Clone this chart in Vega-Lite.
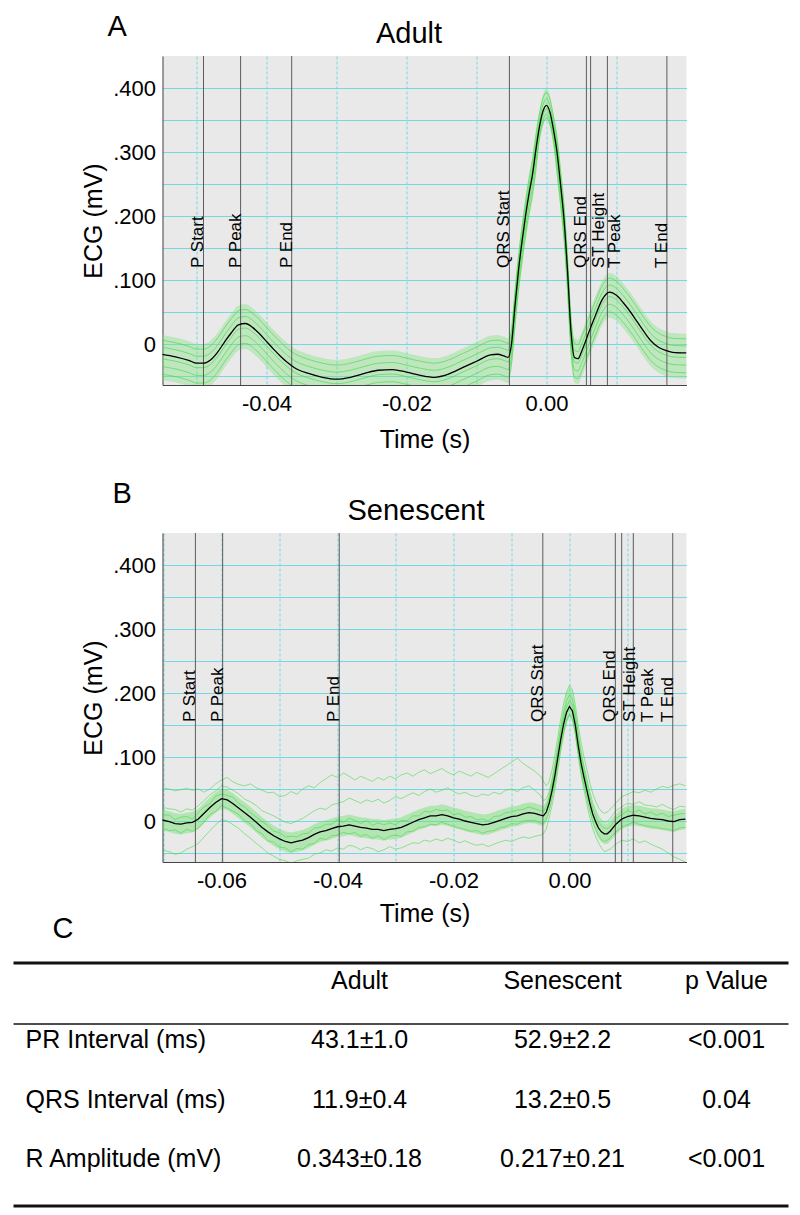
{
"$schema": "https://vega.github.io/schema/vega-lite/v6.json",
"padding": {"left": 11.5, "top": 13, "right": 10.5, "bottom": 7.5},
"spacing": 148,
"bounds": "flush",
"config": {
 "view": {"stroke": null},
 "font": "Liberation Sans",
 "axis": {"labelFont": "Liberation Sans", "titleFont": "Liberation Sans", "labelFontSize": 22, "titleFontSize": 25, "titleFontWeight": "normal", "labelColor": "#000", "titleColor": "#000", "ticks": false, "domainColor": "#444", "domainWidth": 1, "gridColor": "#74d8e4", "gridWidth": 1, "gridOpacity": 1, "labelFlush": false, "labelOverlap": false},
 "axisX": {"gridDash": [3, 2]},
 "text": {"font": "Liberation Sans", "color": "#000"}
},
"datasets": {
 "adult": [
{"t":-0.055,"m":-0.016,"hi":0.014,"lo":-0.056,"g1":0.006,"g2":-0.005,"g3":-0.023,"g4":-0.035,"g5":-0.047},
{"t":-0.053,"m":-0.02,"hi":0.01,"lo":-0.06,"g1":0.002,"g2":-0.009,"g3":-0.027,"g4":-0.039,"g5":-0.051},
{"t":-0.051,"m":-0.026,"hi":0.004,"lo":-0.066,"g1":-0.004,"g2":-0.015,"g3":-0.033,"g4":-0.045,"g5":-0.057},
{"t":-0.05,"m":-0.03,"hi":0,"lo":-0.07,"g1":-0.008,"g2":-0.019,"g3":-0.037,"g4":-0.049,"g5":-0.061},
{"t":-0.049,"m":-0.03,"hi":0,"lo":-0.07,"g1":-0.008,"g2":-0.019,"g3":-0.037,"g4":-0.049,"g5":-0.061},
{"t":-0.048,"m":-0.025,"hi":0.005,"lo":-0.065,"g1":-0.003,"g2":-0.014,"g3":-0.032,"g4":-0.044,"g5":-0.056},
{"t":-0.047,"m":-0.013,"hi":0.017,"lo":-0.053,"g1":0.009,"g2":-0.002,"g3":-0.02,"g4":-0.032,"g5":-0.044},
{"t":-0.046,"m":0.003,"hi":0.033,"lo":-0.037,"g1":0.025,"g2":0.014,"g3":-0.004,"g4":-0.016,"g5":-0.028},
{"t":-0.045,"m":0.018,"hi":0.048,"lo":-0.022,"g1":0.04,"g2":0.029,"g3":0.011,"g4":-0.001,"g5":-0.013},
{"t":-0.044,"m":0.03,"hi":0.06,"lo":-0.01,"g1":0.052,"g2":0.041,"g3":0.023,"g4":0.011,"g5":-0.001},
{"t":-0.043,"m":0.032,"hi":0.062,"lo":-0.008,"g1":0.054,"g2":0.043,"g3":0.025,"g4":0.013,"g5":0.001},
{"t":-0.042,"m":0.026,"hi":0.056,"lo":-0.014,"g1":0.048,"g2":0.037,"g3":0.019,"g4":0.007,"g5":-0.005},
{"t":-0.041,"m":0.016,"hi":0.046,"lo":-0.024,"g1":0.038,"g2":0.027,"g3":0.009,"g4":-0.003,"g5":-0.015},
{"t":-0.04,"m":0.004,"hi":0.034,"lo":-0.036,"g1":0.026,"g2":0.015,"g3":-0.003,"g4":-0.015,"g5":-0.027},
{"t":-0.039,"m":-0.008,"hi":0.022,"lo":-0.048,"g1":0.014,"g2":0.003,"g3":-0.015,"g4":-0.027,"g5":-0.039},
{"t":-0.038,"m":-0.019,"hi":0.011,"lo":-0.059,"g1":0.003,"g2":-0.008,"g3":-0.026,"g4":-0.038,"g5":-0.05},
{"t":-0.037,"m":-0.029,"hi":0.001,"lo":-0.069,"g1":-0.007,"g2":-0.018,"g3":-0.036,"g4":-0.048,"g5":-0.06},
{"t":-0.036,"m":-0.037,"hi":-0.007,"lo":-0.077,"g1":-0.015,"g2":-0.026,"g3":-0.044,"g4":-0.056,"g5":-0.068},
{"t":-0.034,"m":-0.046,"hi":-0.016,"lo":-0.086,"g1":-0.024,"g2":-0.035,"g3":-0.053,"g4":-0.065,"g5":-0.077},
{"t":-0.032,"m":-0.052,"hi":-0.022,"lo":-0.092,"g1":-0.03,"g2":-0.041,"g3":-0.059,"g4":-0.071,"g5":-0.083},
{"t":-0.03,"m":-0.055,"hi":-0.025,"lo":-0.095,"g1":-0.033,"g2":-0.044,"g3":-0.062,"g4":-0.074,"g5":-0.086},
{"t":-0.028,"m":-0.052,"hi":-0.022,"lo":-0.092,"g1":-0.03,"g2":-0.041,"g3":-0.059,"g4":-0.071,"g5":-0.083},
{"t":-0.026,"m":-0.046,"hi":-0.016,"lo":-0.086,"g1":-0.024,"g2":-0.035,"g3":-0.053,"g4":-0.065,"g5":-0.077},
{"t":-0.024,"m":-0.041,"hi":-0.011,"lo":-0.081,"g1":-0.019,"g2":-0.03,"g3":-0.048,"g4":-0.06,"g5":-0.072},
{"t":-0.022,"m":-0.04,"hi":-0.01,"lo":-0.08,"g1":-0.018,"g2":-0.029,"g3":-0.047,"g4":-0.059,"g5":-0.071},
{"t":-0.02,"m":-0.044,"hi":-0.014,"lo":-0.084,"g1":-0.022,"g2":-0.033,"g3":-0.051,"g4":-0.063,"g5":-0.075},
{"t":-0.018,"m":-0.049,"hi":-0.019,"lo":-0.089,"g1":-0.027,"g2":-0.038,"g3":-0.056,"g4":-0.068,"g5":-0.08},
{"t":-0.016,"m":-0.052,"hi":-0.022,"lo":-0.092,"g1":-0.03,"g2":-0.041,"g3":-0.059,"g4":-0.071,"g5":-0.083},
{"t":-0.014,"m":-0.047,"hi":-0.017,"lo":-0.087,"g1":-0.025,"g2":-0.036,"g3":-0.054,"g4":-0.066,"g5":-0.078},
{"t":-0.012,"m":-0.037,"hi":-0.007,"lo":-0.077,"g1":-0.015,"g2":-0.026,"g3":-0.044,"g4":-0.056,"g5":-0.068},
{"t":-0.01,"m":-0.027,"hi":0.003,"lo":-0.067,"g1":-0.005,"g2":-0.016,"g3":-0.034,"g4":-0.046,"g5":-0.058},
{"t":-0.008,"m":-0.017,"hi":0.013,"lo":-0.057,"g1":0.005,"g2":-0.006,"g3":-0.024,"g4":-0.036,"g5":-0.048},
{"t":-0.007,"m":-0.016,"hi":0.014,"lo":-0.056,"g1":0.006,"g2":-0.005,"g3":-0.023,"g4":-0.035,"g5":-0.047},
{"t":-0.006,"m":-0.019,"hi":0.011,"lo":-0.059,"g1":0.003,"g2":-0.008,"g3":-0.026,"g4":-0.038,"g5":-0.05},
{"t":-0.0055,"m":-0.021,"hi":0.009,"lo":-0.061,"g1":0.001,"g2":-0.01,"g3":-0.028,"g4":-0.04,"g5":-0.052},
{"t":-0.005,"m":0,"hi":0.03,"lo":-0.04,"g1":0.022,"g2":0.011,"g3":-0.007,"g4":-0.019,"g5":-0.031},
{"t":-0.0045,"m":0.06,"hi":0.09,"lo":0.02,"g1":0.082,"g2":0.071,"g3":0.053,"g4":0.041,"g5":0.029},
{"t":-0.004,"m":0.115,"hi":0.145,"lo":0.075,"g1":0.137,"g2":0.126,"g3":0.108,"g4":0.096,"g5":0.084},
{"t":-0.0035,"m":0.16,"hi":0.19,"lo":0.12,"g1":0.182,"g2":0.171,"g3":0.153,"g4":0.141,"g5":0.129},
{"t":-0.003,"m":0.2,"hi":0.23,"lo":0.16,"g1":0.222,"g2":0.211,"g3":0.193,"g4":0.181,"g5":0.169},
{"t":-0.0025,"m":0.235,"hi":0.265,"lo":0.195,"g1":0.257,"g2":0.246,"g3":0.228,"g4":0.216,"g5":0.204},
{"t":-0.002,"m":0.265,"hi":0.295,"lo":0.225,"g1":0.287,"g2":0.276,"g3":0.258,"g4":0.246,"g5":0.234},
{"t":-0.0015,"m":0.305,"hi":0.335,"lo":0.265,"g1":0.327,"g2":0.316,"g3":0.298,"g4":0.286,"g5":0.274},
{"t":-0.001,"m":0.34,"hi":0.366,"lo":0.318,"g1":0.36,"g2":0.35,"g3":0.334,"g4":0.326,"g5":0.32},
{"t":-0.0005,"m":0.364,"hi":0.39,"lo":0.342,"g1":0.384,"g2":0.374,"g3":0.358,"g4":0.35,"g5":0.344},
{"t":0,"m":0.373,"hi":0.399,"lo":0.351,"g1":0.393,"g2":0.383,"g3":0.367,"g4":0.359,"g5":0.353},
{"t":0.0005,"m":0.362,"hi":0.388,"lo":0.34,"g1":0.382,"g2":0.372,"g3":0.356,"g4":0.348,"g5":0.342},
{"t":0.001,"m":0.335,"hi":0.361,"lo":0.313,"g1":0.355,"g2":0.345,"g3":0.329,"g4":0.321,"g5":0.315},
{"t":0.0015,"m":0.3,"hi":0.33,"lo":0.26,"g1":0.322,"g2":0.311,"g3":0.293,"g4":0.281,"g5":0.269},
{"t":0.002,"m":0.25,"hi":0.28,"lo":0.21,"g1":0.272,"g2":0.261,"g3":0.243,"g4":0.231,"g5":0.219},
{"t":0.0025,"m":0.195,"hi":0.225,"lo":0.155,"g1":0.217,"g2":0.206,"g3":0.188,"g4":0.176,"g5":0.164},
{"t":0.003,"m":0.115,"hi":0.145,"lo":0.075,"g1":0.137,"g2":0.126,"g3":0.108,"g4":0.096,"g5":0.084},
{"t":0.0035,"m":0.02,"hi":0.05,"lo":-0.02,"g1":0.042,"g2":0.031,"g3":0.013,"g4":0.001,"g5":-0.011},
{"t":0.004,"m":-0.021,"hi":0.009,"lo":-0.061,"g1":0.001,"g2":-0.01,"g3":-0.028,"g4":-0.04,"g5":-0.052},
{"t":0.0045,"m":-0.023,"hi":0.007,"lo":-0.063,"g1":-0.001,"g2":-0.012,"g3":-0.03,"g4":-0.042,"g5":-0.054},
{"t":0.005,"m":-0.012,"hi":0.018,"lo":-0.052,"g1":0.01,"g2":-0.001,"g3":-0.019,"g4":-0.031,"g5":-0.043},
{"t":0.0055,"m":0.002,"hi":0.032,"lo":-0.038,"g1":0.024,"g2":0.013,"g3":-0.005,"g4":-0.017,"g5":-0.029},
{"t":0.006,"m":0.017,"hi":0.047,"lo":-0.023,"g1":0.039,"g2":0.028,"g3":0.01,"g4":-0.002,"g5":-0.014},
{"t":0.007,"m":0.045,"hi":0.075,"lo":0.005,"g1":0.067,"g2":0.056,"g3":0.038,"g4":0.026,"g5":0.014},
{"t":0.008,"m":0.07,"hi":0.1,"lo":0.03,"g1":0.092,"g2":0.081,"g3":0.063,"g4":0.051,"g5":0.039},
{"t":0.009,"m":0.081,"hi":0.111,"lo":0.041,"g1":0.103,"g2":0.092,"g3":0.074,"g4":0.062,"g5":0.05},
{"t":0.01,"m":0.076,"hi":0.106,"lo":0.036,"g1":0.098,"g2":0.087,"g3":0.069,"g4":0.057,"g5":0.045},
{"t":0.011,"m":0.064,"hi":0.094,"lo":0.024,"g1":0.086,"g2":0.075,"g3":0.057,"g4":0.045,"g5":0.033},
{"t":0.012,"m":0.05,"hi":0.08,"lo":0.01,"g1":0.072,"g2":0.061,"g3":0.043,"g4":0.031,"g5":0.019},
{"t":0.013,"m":0.034,"hi":0.064,"lo":-0.006,"g1":0.056,"g2":0.045,"g3":0.027,"g4":0.015,"g5":0.003},
{"t":0.014,"m":0.018,"hi":0.048,"lo":-0.022,"g1":0.04,"g2":0.029,"g3":0.011,"g4":-0.001,"g5":-0.013},
{"t":0.015,"m":0.004,"hi":0.034,"lo":-0.036,"g1":0.026,"g2":0.015,"g3":-0.003,"g4":-0.015,"g5":-0.027},
{"t":0.016,"m":-0.005,"hi":0.025,"lo":-0.045,"g1":0.017,"g2":0.006,"g3":-0.012,"g4":-0.024,"g5":-0.036},
{"t":0.017,"m":-0.01,"hi":0.02,"lo":-0.05,"g1":0.012,"g2":0.001,"g3":-0.017,"g4":-0.029,"g5":-0.041},
{"t":0.018,"m":-0.013,"hi":0.017,"lo":-0.053,"g1":0.009,"g2":-0.002,"g3":-0.02,"g4":-0.032,"g5":-0.044},
{"t":0.02,"m":-0.014,"hi":0.016,"lo":-0.054,"g1":0.008,"g2":-0.003,"g3":-0.021,"g4":-0.033,"g5":-0.045}
 ],
 "sen": [
{"t":-0.0705,"m":0.002,"hi":0.018,"lo":-0.014,"g1":0.052,"g2":0.022,"g3":0.01,"g4":-0.01,"g5":-0.045},
{"t":-0.069,"m":-0.001,"hi":0.015,"lo":-0.017,"g1":0.05,"g2":0.019,"g3":0.009,"g4":-0.015,"g5":-0.048},
{"t":-0.068,"m":-0.004,"hi":0.012,"lo":-0.02,"g1":0.047,"g2":0.018,"g3":0.002,"g4":-0.014,"g5":-0.052},
{"t":-0.067,"m":-0.005,"hi":0.011,"lo":-0.021,"g1":0.049,"g2":0.014,"g3":0.006,"g4":-0.019,"g5":-0.05},
{"t":-0.066,"m":-0.003,"hi":0.013,"lo":-0.019,"g1":0.051,"g2":0.019,"g3":0.007,"g4":-0.013,"g5":-0.044},
{"t":-0.065,"m":-0.002,"hi":0.014,"lo":-0.018,"g1":0.048,"g2":0.017,"g3":0.003,"g4":-0.016,"g5":-0.04},
{"t":-0.064,"m":0.003,"hi":0.019,"lo":-0.013,"g1":0.05,"g2":0.024,"g3":0.013,"g4":-0.011,"g5":-0.035},
{"t":-0.063,"m":0.012,"hi":0.028,"lo":-0.004,"g1":0.045,"g2":0.032,"g3":0.022,"g4":-0.001,"g5":-0.025},
{"t":-0.062,"m":0.021,"hi":0.037,"lo":0.005,"g1":0.05,"g2":0.041,"g3":0.027,"g4":0.01,"g5":-0.015},
{"t":-0.061,"m":0.029,"hi":0.045,"lo":0.013,"g1":0.058,"g2":0.047,"g3":0.039,"g4":0.015,"g5":-0.006},
{"t":-0.06,"m":0.035,"hi":0.051,"lo":0.019,"g1":0.064,"g2":0.055,"g3":0.042,"g4":0.024,"g5":0.002},
{"t":-0.059,"m":0.033,"hi":0.049,"lo":0.017,"g1":0.068,"g2":0.053,"g3":0.04,"g4":0.02,"g5":0},
{"t":-0.058,"m":0.027,"hi":0.043,"lo":0.011,"g1":0.061,"g2":0.048,"g3":0.037,"g4":0.015,"g5":-0.006},
{"t":-0.057,"m":0.02,"hi":0.036,"lo":0.004,"g1":0.057,"g2":0.042,"g3":0.027,"g4":0.01,"g5":-0.012},
{"t":-0.056,"m":0.013,"hi":0.029,"lo":-0.003,"g1":0.055,"g2":0.034,"g3":0.022,"g4":0,"g5":-0.02},
{"t":-0.055,"m":0.006,"hi":0.022,"lo":-0.01,"g1":0.058,"g2":0.03,"g3":0.013,"g4":-0.004,"g5":-0.027},
{"t":-0.054,"m":-0.002,"hi":0.014,"lo":-0.018,"g1":0.052,"g2":0.024,"g3":0.006,"g4":-0.015,"g5":-0.035},
{"t":-0.053,"m":-0.01,"hi":0.006,"lo":-0.026,"g1":0.048,"g2":0.016,"g3":-0.001,"g4":-0.02,"g5":-0.042},
{"t":-0.052,"m":-0.017,"hi":-0.001,"lo":-0.033,"g1":0.044,"g2":0.012,"g3":-0.007,"g4":-0.031,"g5":-0.05},
{"t":-0.051,"m":-0.023,"hi":-0.007,"lo":-0.039,"g1":0.045,"g2":0.008,"g3":-0.016,"g4":-0.033,"g5":-0.055},
{"t":-0.05,"m":-0.028,"hi":-0.012,"lo":-0.044,"g1":0.038,"g2":0.003,"g3":-0.018,"g4":-0.041,"g5":-0.06},
{"t":-0.049,"m":-0.032,"hi":-0.016,"lo":-0.048,"g1":0.04,"g2":-0.002,"g3":-0.025,"g4":-0.042,"g5":-0.062},
{"t":-0.048,"m":-0.034,"hi":-0.018,"lo":-0.05,"g1":0.046,"g2":-0.004,"g3":-0.024,"g4":-0.048,"g5":-0.066},
{"t":-0.047,"m":-0.032,"hi":-0.016,"lo":-0.048,"g1":0.042,"g2":0,"g3":-0.025,"g4":-0.043,"g5":-0.062},
{"t":-0.046,"m":-0.03,"hi":-0.014,"lo":-0.046,"g1":0.05,"g2":0.004,"g3":-0.02,"g4":-0.044,"g5":-0.06},
{"t":-0.045,"m":-0.026,"hi":-0.01,"lo":-0.042,"g1":0.055,"g2":0.01,"g3":-0.019,"g4":-0.037,"g5":-0.058},
{"t":-0.044,"m":-0.021,"hi":-0.005,"lo":-0.037,"g1":0.052,"g2":0.016,"g3":-0.011,"g4":-0.035,"g5":-0.052},
{"t":-0.043,"m":-0.017,"hi":-0.001,"lo":-0.033,"g1":0.06,"g2":0.02,"g3":-0.01,"g4":-0.027,"g5":-0.05},
{"t":-0.042,"m":-0.015,"hi":0.001,"lo":-0.031,"g1":0.066,"g2":0.018,"g3":-0.005,"g4":-0.029,"g5":-0.045},
{"t":-0.041,"m":-0.012,"hi":0.004,"lo":-0.028,"g1":0.072,"g2":0.025,"g3":-0.005,"g4":-0.023,"g5":-0.047},
{"t":-0.04,"m":-0.009,"hi":0.007,"lo":-0.025,"g1":0.068,"g2":0.028,"g3":0.002,"g4":-0.022,"g5":-0.042},
{"t":-0.039,"m":-0.008,"hi":0.008,"lo":-0.024,"g1":0.075,"g2":0.03,"g3":-0.002,"g4":-0.018,"g5":-0.044},
{"t":-0.038,"m":-0.006,"hi":0.01,"lo":-0.022,"g1":0.07,"g2":0.036,"g3":0.004,"g4":-0.02,"g5":-0.038},
{"t":-0.037,"m":-0.008,"hi":0.008,"lo":-0.024,"g1":0.064,"g2":0.032,"g3":0.001,"g4":-0.018,"g5":-0.04},
{"t":-0.036,"m":-0.01,"hi":0.006,"lo":-0.026,"g1":0.07,"g2":0.028,"g3":-0.004,"g4":-0.024,"g5":-0.045},
{"t":-0.035,"m":-0.011,"hi":0.005,"lo":-0.027,"g1":0.066,"g2":0.033,"g3":0.001,"g4":-0.021,"g5":-0.041},
{"t":-0.034,"m":-0.013,"hi":0.003,"lo":-0.029,"g1":0.062,"g2":0.03,"g3":-0.007,"g4":-0.027,"g5":-0.043},
{"t":-0.033,"m":-0.013,"hi":0.003,"lo":-0.029,"g1":0.068,"g2":0.034,"g3":-0.003,"g4":-0.023,"g5":-0.048},
{"t":-0.032,"m":-0.015,"hi":0.001,"lo":-0.031,"g1":0.064,"g2":0.028,"g3":-0.006,"g4":-0.029,"g5":-0.045},
{"t":-0.031,"m":-0.013,"hi":0.003,"lo":-0.029,"g1":0.07,"g2":0.032,"g3":-0.003,"g4":-0.024,"g5":-0.04},
{"t":-0.03,"m":-0.012,"hi":0.004,"lo":-0.028,"g1":0.066,"g2":0.038,"g3":-0.006,"g4":-0.022,"g5":-0.044},
{"t":-0.029,"m":-0.01,"hi":0.006,"lo":-0.026,"g1":0.072,"g2":0.035,"g3":0.001,"g4":-0.024,"g5":-0.042},
{"t":-0.028,"m":-0.006,"hi":0.01,"lo":-0.022,"g1":0.075,"g2":0.04,"g3":0,"g4":-0.017,"g5":-0.038},
{"t":-0.027,"m":-0.002,"hi":0.014,"lo":-0.018,"g1":0.07,"g2":0.044,"g3":0.008,"g4":-0.016,"g5":-0.034},
{"t":-0.026,"m":0.002,"hi":0.018,"lo":-0.014,"g1":0.076,"g2":0.04,"g3":0.008,"g4":-0.01,"g5":-0.035},
{"t":-0.025,"m":0.005,"hi":0.021,"lo":-0.011,"g1":0.08,"g2":0.046,"g3":0.015,"g4":-0.009,"g5":-0.03},
{"t":-0.024,"m":0.008,"hi":0.024,"lo":-0.008,"g1":0.074,"g2":0.05,"g3":0.014,"g4":-0.005,"g5":-0.032},
{"t":-0.023,"m":0.008,"hi":0.024,"lo":-0.008,"g1":0.078,"g2":0.045,"g3":0.018,"g4":-0.006,"g5":-0.028},
{"t":-0.022,"m":0.01,"hi":0.026,"lo":-0.006,"g1":0.082,"g2":0.048,"g3":0.016,"g4":-0.002,"g5":-0.031},
{"t":-0.021,"m":0.008,"hi":0.024,"lo":-0.008,"g1":0.076,"g2":0.052,"g3":0.017,"g4":-0.005,"g5":-0.027},
{"t":-0.02,"m":0.005,"hi":0.021,"lo":-0.011,"g1":0.072,"g2":0.046,"g3":0.01,"g4":-0.008,"g5":-0.03},
{"t":-0.019,"m":0.003,"hi":0.019,"lo":-0.013,"g1":0.078,"g2":0.042,"g3":0.012,"g4":-0.011,"g5":-0.034},
{"t":-0.018,"m":0,"hi":0.016,"lo":-0.016,"g1":0.074,"g2":0.045,"g3":0.006,"g4":-0.013,"g5":-0.031},
{"t":-0.017,"m":-0.002,"hi":0.014,"lo":-0.018,"g1":0.07,"g2":0.04,"g3":0.007,"g4":-0.016,"g5":-0.035},
{"t":-0.016,"m":-0.004,"hi":0.012,"lo":-0.02,"g1":0.076,"g2":0.038,"g3":0.002,"g4":-0.015,"g5":-0.038},
{"t":-0.015,"m":-0.006,"hi":0.01,"lo":-0.022,"g1":0.072,"g2":0.042,"g3":0.003,"g4":-0.019,"g5":-0.036},
{"t":-0.014,"m":-0.005,"hi":0.011,"lo":-0.021,"g1":0.068,"g2":0.04,"g3":0,"g4":-0.016,"g5":-0.04},
{"t":-0.013,"m":-0.002,"hi":0.014,"lo":-0.018,"g1":0.074,"g2":0.045,"g3":0.007,"g4":-0.015,"g5":-0.036},
{"t":-0.012,"m":0.001,"hi":0.017,"lo":-0.015,"g1":0.08,"g2":0.042,"g3":0.008,"g4":-0.01,"g5":-0.033},
{"t":-0.011,"m":0.004,"hi":0.02,"lo":-0.012,"g1":0.086,"g2":0.048,"g3":0.013,"g4":-0.009,"g5":-0.03},
{"t":-0.01,"m":0.007,"hi":0.023,"lo":-0.009,"g1":0.092,"g2":0.05,"g3":0.014,"g4":-0.004,"g5":-0.032},
{"t":-0.009,"m":0.008,"hi":0.024,"lo":-0.008,"g1":0.098,"g2":0.046,"g3":0.017,"g4":-0.005,"g5":-0.028},
{"t":-0.008,"m":0.011,"hi":0.027,"lo":-0.005,"g1":0.09,"g2":0.052,"g3":0.018,"g4":0,"g5":-0.025},
{"t":-0.007,"m":0.013,"hi":0.029,"lo":-0.003,"g1":0.084,"g2":0.055,"g3":0.022,"g4":0.001,"g5":-0.027},
{"t":-0.006,"m":0.012,"hi":0.028,"lo":-0.004,"g1":0.078,"g2":0.048,"g3":0.019,"g4":0.001,"g5":-0.024},
{"t":-0.005,"m":0.009,"hi":0.025,"lo":-0.007,"g1":0.07,"g2":0.04,"g3":0.016,"g4":-0.003,"g5":-0.022},
{"t":-0.0045,"m":0.008,"hi":0.024,"lo":-0.008,"g1":0.062,"g2":0.032,"g3":0.015,"g4":-0.004,"g5":-0.02},
{"t":-0.004,"m":0.014,"hi":0.03,"lo":-0.002,"g1":0.055,"g2":0.034,"g3":0.022,"g4":0.002,"g5":-0.012},
{"t":-0.0035,"m":0.028,"hi":0.046,"lo":0.012,"g1":0.062,"g2":0.046,"g3":0.037,"g4":0.016,"g5":0.005},
{"t":-0.003,"m":0.048,"hi":0.068,"lo":0.032,"g1":0.08,"g2":0.066,"g3":0.057,"g4":0.036,"g5":0.025},
{"t":-0.0025,"m":0.072,"hi":0.094,"lo":0.056,"g1":0.104,"g2":0.09,"g3":0.081,"g4":0.06,"g5":0.05},
{"t":-0.002,"m":0.1,"hi":0.124,"lo":0.084,"g1":0.132,"g2":0.118,"g3":0.109,"g4":0.088,"g5":0.08},
{"t":-0.0015,"m":0.128,"hi":0.154,"lo":0.112,"g1":0.16,"g2":0.146,"g3":0.137,"g4":0.116,"g5":0.11},
{"t":-0.001,"m":0.152,"hi":0.18,"lo":0.138,"g1":0.184,"g2":0.17,"g3":0.161,"g4":0.14,"g5":0.136},
{"t":-0.0005,"m":0.17,"hi":0.2,"lo":0.156,"g1":0.202,"g2":0.188,"g3":0.179,"g4":0.158,"g5":0.155},
{"t":0,"m":0.179,"hi":0.21,"lo":0.166,"g1":0.212,"g2":0.197,"g3":0.188,"g4":0.167,"g5":0.165},
{"t":0.0005,"m":0.172,"hi":0.202,"lo":0.16,"g1":0.205,"g2":0.19,"g3":0.181,"g4":0.16,"g5":0.158},
{"t":0.001,"m":0.15,"hi":0.178,"lo":0.138,"g1":0.182,"g2":0.168,"g3":0.159,"g4":0.138,"g5":0.136},
{"t":0.0015,"m":0.118,"hi":0.144,"lo":0.104,"g1":0.15,"g2":0.136,"g3":0.127,"g4":0.106,"g5":0.102},
{"t":0.002,"m":0.09,"hi":0.112,"lo":0.074,"g1":0.122,"g2":0.108,"g3":0.099,"g4":0.078,"g5":0.072},
{"t":0.0025,"m":0.068,"hi":0.088,"lo":0.052,"g1":0.1,"g2":0.086,"g3":0.077,"g4":0.056,"g5":0.048},
{"t":0.003,"m":0.048,"hi":0.066,"lo":0.032,"g1":0.08,"g2":0.066,"g3":0.057,"g4":0.036,"g5":0.026},
{"t":0.0035,"m":0.028,"hi":0.044,"lo":0.012,"g1":0.06,"g2":0.046,"g3":0.037,"g4":0.016,"g5":0.005},
{"t":0.004,"m":0.011,"hi":0.027,"lo":-0.005,"g1":0.043,"g2":0.029,"g3":0.02,"g4":-0.001,"g5":-0.012},
{"t":0.0045,"m":-0.001,"hi":0.015,"lo":-0.017,"g1":0.031,"g2":0.017,"g3":0.008,"g4":-0.013,"g5":-0.024},
{"t":0.005,"m":-0.011,"hi":0.005,"lo":-0.027,"g1":0.021,"g2":0.007,"g3":-0.002,"g4":-0.023,"g5":-0.034},
{"t":0.0055,"m":-0.017,"hi":-0.001,"lo":-0.033,"g1":0.015,"g2":0.001,"g3":-0.008,"g4":-0.029,"g5":-0.042},
{"t":0.006,"m":-0.02,"hi":-0.004,"lo":-0.036,"g1":0.012,"g2":-0.002,"g3":-0.011,"g4":-0.032,"g5":-0.048},
{"t":0.0065,"m":-0.02,"hi":-0.004,"lo":-0.036,"g1":0.014,"g2":-0.001,"g3":-0.012,"g4":-0.03,"g5":-0.046},
{"t":0.007,"m":-0.016,"hi":0,"lo":-0.032,"g1":0.018,"g2":0.004,"g3":-0.009,"g4":-0.027,"g5":-0.044},
{"t":0.008,"m":-0.005,"hi":0.011,"lo":-0.021,"g1":0.028,"g2":0.016,"g3":0.004,"g4":-0.017,"g5":-0.036},
{"t":0.009,"m":0.003,"hi":0.019,"lo":-0.013,"g1":0.038,"g2":0.022,"g3":0.01,"g4":-0.009,"g5":-0.03},
{"t":0.01,"m":0.007,"hi":0.023,"lo":-0.009,"g1":0.042,"g2":0.028,"g3":0.016,"g4":-0.006,"g5":-0.032},
{"t":0.011,"m":0.009,"hi":0.025,"lo":-0.007,"g1":0.046,"g2":0.026,"g3":0.013,"g4":-0.002,"g5":-0.028},
{"t":0.012,"m":0.008,"hi":0.024,"lo":-0.008,"g1":0.044,"g2":0.03,"g3":0.017,"g4":-0.005,"g5":-0.034},
{"t":0.013,"m":0.006,"hi":0.022,"lo":-0.01,"g1":0.048,"g2":0.025,"g3":0.011,"g4":-0.007,"g5":-0.031},
{"t":0.014,"m":0.004,"hi":0.02,"lo":-0.012,"g1":0.045,"g2":0.024,"g3":0.014,"g4":-0.009,"g5":-0.036},
{"t":0.015,"m":0.003,"hi":0.019,"lo":-0.013,"g1":0.05,"g2":0.022,"g3":0.009,"g4":-0.01,"g5":-0.04},
{"t":0.016,"m":0.002,"hi":0.018,"lo":-0.014,"g1":0.054,"g2":0.026,"g3":0.012,"g4":-0.012,"g5":-0.044},
{"t":0.017,"m":0,"hi":0.016,"lo":-0.016,"g1":0.052,"g2":0.021,"g3":0.007,"g4":-0.013,"g5":-0.05},
{"t":0.018,"m":-0.001,"hi":0.015,"lo":-0.017,"g1":0.056,"g2":0.018,"g3":0.009,"g4":-0.015,"g5":-0.056},
{"t":0.019,"m":0.002,"hi":0.018,"lo":-0.014,"g1":0.058,"g2":0.023,"g3":0.011,"g4":-0.011,"g5":-0.06},
{"t":0.02,"m":0.003,"hi":0.019,"lo":-0.013,"g1":0.055,"g2":0.022,"g3":0.012,"g4":-0.01,"g5":-0.064}
 ],
 "mkA": [
  {"name": "P Start", "t": -0.049, "side": "L"},
  {"name": "P Peak", "t": -0.0437, "side": "L"},
  {"name": "P End", "t": -0.0364, "side": "L"},
  {"name": "QRS Start", "t": -0.0053, "side": "L"},
  {"name": "QRS End", "t": 0.0057, "side": "L"},
  {"name": "ST Height", "t": 0.0063, "side": "R"},
  {"name": "T Peak", "t": 0.0087, "side": "R"},
  {"name": "T End", "t": 0.0172, "side": "L"}
 ],
 "mkB": [
  {"name": "P Start", "t": -0.0645, "side": "L"},
  {"name": "P Peak", "t": -0.0598, "side": "L"},
  {"name": "P End", "t": -0.0397, "side": "L"},
  {"name": "QRS Start", "t": -0.0046, "side": "L"},
  {"name": "QRS End", "t": 0.0079, "side": "L"},
  {"name": "ST Height", "t": 0.009, "side": "R"},
  {"name": "T Peak", "t": 0.011, "side": "R2"},
  {"name": "T End", "t": 0.0178, "side": "L"}
 ],
 "tbl": [
  {"r": 0, "label": "", "adult": "Adult", "sen": "Senescent", "p": "p Value"},
  {"r": 1, "label": "PR Interval (ms)", "adult": "43.1±1.0", "sen": "52.9±2.2", "p": "<0.001"},
  {"r": 2, "label": "QRS Interval (ms)", "adult": "11.9±0.4", "sen": "13.2±0.5", "p": "0.04"},
  {"r": 3, "label": "R Amplitude (mV)", "adult": "0.343±0.18", "sen": "0.217±0.21", "p": "<0.001"}
 ]
},
"vconcat": [
 {
  "width": 524, "height": 329,
  "view": {"fill": "#e9e9e9", "stroke": null},
  "data": {"name": "adult"},
  "layer": [
   {"mark": {"type": "area", "color": "#7fe27f", "opacity": 0.4, "clip": true, "interpolate": "monotone"},
    "encoding": {
     "x": {"field": "t", "type": "quantitative", "scale": {"domain": [-0.054857, 0.02], "nice": false, "zero": false},
       "axis": {"title": "Time (s)", "values": [-0.05, -0.04, -0.03, -0.02, -0.01, 0, 0.01], "tickCount": 30, "labelExpr": "abs(round(datum.value*100)) % 2 == 0 ? (datum.value < -0.0001 ? '-' : '') + format(abs(datum.value), '.2f') : ''", "grid": true, "labelPadding": 8, "titlePadding": 13}},
     "y": {"field": "lo", "type": "quantitative", "scale": {"domain": [-0.0640625, 0.45], "nice": false, "zero": false},
       "axis": {"title": "ECG (mV)", "values": [-0.05, 0, 0.05, 0.1, 0.15, 0.2, 0.25, 0.3, 0.35, 0.4], "tickCount": 30, "labelExpr": "datum.value == 0 ? '0' : (abs(round(datum.value*100)) % 10 == 0 ? '.' + format(round(datum.value*1000), 'd') : '')", "grid": true, "labelPadding": 7, "titlePadding": 6}},
     "y2": {"field": "hi"}
    }},
   {"transform": [{"fold": ["g1", "g2", "g3", "g4", "g5"], "as": ["trace", "v"]}],
    "mark": {"type": "line", "color": "#3ed83e", "opacity": 0.6, "strokeWidth": 1, "clip": true, "interpolate": "monotone"},
    "encoding": {
     "x": {"field": "t", "type": "quantitative", "scale": {"domain": [-0.054857, 0.02], "nice": false, "zero": false}},
     "y": {"field": "v", "type": "quantitative", "scale": {"domain": [-0.0640625, 0.45], "nice": false, "zero": false}},
     "detail": {"field": "trace"}
    }},
   {"data": {"name": "mkA"},
    "mark": {"type": "rule", "color": "#5c5c5c", "strokeWidth": 1},
    "encoding": {"x": {"field": "t", "type": "quantitative", "scale": {"domain": [-0.054857, 0.02], "nice": false, "zero": false}}}},
   {"mark": {"type": "line", "color": "#000", "strokeWidth": 1.3, "clip": true, "interpolate": "monotone"},
    "encoding": {
     "x": {"field": "t", "type": "quantitative", "scale": {"domain": [-0.054857, 0.02], "nice": false, "zero": false}},
     "y": {"field": "m", "type": "quantitative", "scale": {"domain": [-0.0640625, 0.45], "nice": false, "zero": false}}
    }},
   {"data": {"name": "mkA"}, "transform": [{"filter": "datum.side == 'L'"}],
    "mark": {"type": "text", "angle": 270, "align": "left", "baseline": "alphabetic", "fontSize": 17},
    "encoding": {
     "x": {"field": "t", "type": "quantitative", "scale": {"domain": [-0.054857, 0.02], "nice": false, "zero": false}},
     "y": {"datum": 0.1188, "scale": {"domain": [-0.0640625, 0.45], "nice": false, "zero": false}},
     "text": {"field": "name"}
    }},
   {"data": {"name": "mkA"}, "transform": [{"filter": "datum.side == 'R'"}],
    "mark": {"type": "text", "angle": 270, "align": "left", "baseline": "top", "fontSize": 17},
    "encoding": {
     "x": {"field": "t", "type": "quantitative", "scale": {"domain": [-0.054857, 0.02], "nice": false, "zero": false}},
     "y": {"datum": 0.1188, "scale": {"domain": [-0.0640625, 0.45], "nice": false, "zero": false}},
     "text": {"field": "name"}
    }},
   {"data": {"values": [{"k": "A"}]},
    "mark": {"type": "text", "align": "left", "baseline": "alphabetic", "fontSize": 29},
    "encoding": {
     "x": {"datum": -0.062714, "scale": {"domain": [-0.054857, 0.02], "nice": false, "zero": false}},
     "y": {"datum": 0.48125, "scale": {"domain": [-0.0640625, 0.45], "nice": false, "zero": false}},
     "text": {"field": "k"}
    }},
   {"data": {"values": [{"k": "Adult"}]},
    "mark": {"type": "text", "align": "center", "baseline": "alphabetic", "fontSize": 29},
    "encoding": {
     "x": {"datum": -0.019643, "scale": {"domain": [-0.054857, 0.02], "nice": false, "zero": false}},
     "y": {"datum": 0.4703, "scale": {"domain": [-0.0640625, 0.45], "nice": false, "zero": false}},
     "text": {"field": "k"}
    }}
  ]
 },
 {
  "width": 524, "height": 329,
  "view": {"fill": "#e9e9e9", "stroke": null},
  "data": {"name": "sen"},
  "layer": [
   {"mark": {"type": "area", "color": "#6fdf6f", "opacity": 0.45, "clip": true, "interpolate": "linear"},
    "encoding": {
     "x": {"field": "t", "type": "quantitative", "scale": {"domain": [-0.070172, 0.020172], "nice": false, "zero": false},
       "axis": {"title": "Time (s)", "values": [-0.07, -0.06, -0.05, -0.04, -0.03, -0.02, -0.01, 0, 0.01], "tickCount": 30, "labelExpr": "abs(round(datum.value*100)) % 2 == 0 ? (datum.value < -0.0001 ? '-' : '') + format(abs(datum.value), '.2f') : ''", "grid": true, "labelPadding": 8, "titlePadding": 10}},
     "y": {"field": "lo", "type": "quantitative", "scale": {"domain": [-0.0640625, 0.45], "nice": false, "zero": false},
       "axis": {"title": "ECG (mV)", "values": [-0.05, 0, 0.05, 0.1, 0.15, 0.2, 0.25, 0.3, 0.35, 0.4], "tickCount": 30, "labelExpr": "datum.value == 0 ? '0' : (abs(round(datum.value*100)) % 10 == 0 ? '.' + format(round(datum.value*1000), 'd') : '')", "grid": true, "labelPadding": 7, "titlePadding": 6}},
     "y2": {"field": "hi"}
    }},
   {"transform": [{"fold": ["g1", "g2", "g3", "g4", "g5"], "as": ["trace", "v"]}],
    "mark": {"type": "line", "color": "#3ed83e", "opacity": 0.55, "strokeWidth": 1, "clip": true},
    "encoding": {
     "x": {"field": "t", "type": "quantitative", "scale": {"domain": [-0.070172, 0.020172], "nice": false, "zero": false}},
     "y": {"field": "v", "type": "quantitative", "scale": {"domain": [-0.0640625, 0.45], "nice": false, "zero": false}},
     "detail": {"field": "trace"}
    }},
   {"data": {"name": "mkB"},
    "mark": {"type": "rule", "color": "#5c5c5c", "strokeWidth": 1},
    "encoding": {"x": {"field": "t", "type": "quantitative", "scale": {"domain": [-0.070172, 0.020172], "nice": false, "zero": false}}}},
   {"mark": {"type": "line", "color": "#000", "strokeWidth": 1.3, "clip": true},
    "encoding": {
     "x": {"field": "t", "type": "quantitative", "scale": {"domain": [-0.070172, 0.020172], "nice": false, "zero": false}},
     "y": {"field": "m", "type": "quantitative", "scale": {"domain": [-0.0640625, 0.45], "nice": false, "zero": false}}
    }},
   {"data": {"name": "mkB"}, "transform": [{"filter": "datum.side == 'L'"}],
    "mark": {"type": "text", "angle": 270, "align": "left", "baseline": "alphabetic", "fontSize": 17},
    "encoding": {
     "x": {"field": "t", "type": "quantitative", "scale": {"domain": [-0.070172, 0.020172], "nice": false, "zero": false}},
     "y": {"datum": 0.1547, "scale": {"domain": [-0.0640625, 0.45], "nice": false, "zero": false}},
     "text": {"field": "name"}
    }},
   {"data": {"name": "mkB"}, "transform": [{"filter": "datum.side == 'R'"}],
    "mark": {"type": "text", "angle": 270, "align": "left", "baseline": "top", "fontSize": 17},
    "encoding": {
     "x": {"field": "t", "type": "quantitative", "scale": {"domain": [-0.070172, 0.020172], "nice": false, "zero": false}},
     "y": {"datum": 0.1547, "scale": {"domain": [-0.0640625, 0.45], "nice": false, "zero": false}},
     "text": {"field": "name"}
    }},
   {"data": {"name": "mkB"}, "transform": [{"filter": "datum.side == 'R2'"}],
    "mark": {"type": "text", "angle": 270, "align": "left", "baseline": "top", "fontSize": 17, "dy": 7},
    "encoding": {
     "x": {"field": "t", "type": "quantitative", "scale": {"domain": [-0.070172, 0.020172], "nice": false, "zero": false}},
     "y": {"datum": 0.1547, "scale": {"domain": [-0.0640625, 0.45], "nice": false, "zero": false}},
     "text": {"field": "name"}
    }},
   {"data": {"values": [{"k": "B"}]},
    "mark": {"type": "text", "align": "left", "baseline": "alphabetic", "fontSize": 29},
    "encoding": {
     "x": {"datum": -0.078793, "scale": {"domain": [-0.070172, 0.020172], "nice": false, "zero": false}},
     "y": {"datum": 0.4969, "scale": {"domain": [-0.0640625, 0.45], "nice": false, "zero": false}},
     "text": {"field": "k"}
    }},
   {"data": {"values": [{"k": "Senescent"}]},
    "mark": {"type": "text", "align": "center", "baseline": "alphabetic", "fontSize": 29},
    "encoding": {
     "x": {"datum": -0.026465, "scale": {"domain": [-0.070172, 0.020172], "nice": false, "zero": false}},
     "y": {"datum": 0.4703, "scale": {"domain": [-0.0640625, 0.45], "nice": false, "zero": false}},
     "text": {"field": "k"}
    }}
  ]
 },
 {
  "width": 524, "height": 150,
  "data": {"name": "tbl"},
  "layer": [
   {"data": {"values": [{"k": "top"}]},
    "mark": {"type": "rule", "color": "#111", "strokeWidth": 3},
    "encoding": {
     "x": {"datum": 0, "scale": {"domain": [0, 100], "range": [-149, 626], "nice": false, "zero": false}, "axis": null},
     "x2": {"datum": 100},
     "y": {"datum": -0.438, "scale": {"domain": [0, 3], "range": [-21, 157], "nice": false, "zero": false}, "axis": null}
    }},
   {"data": {"values": [{"k": "mid"}]},
    "mark": {"type": "rule", "color": "#111", "strokeWidth": 1.4},
    "encoding": {
     "x": {"datum": 0, "scale": {"domain": [0, 100], "range": [-149, 626], "nice": false, "zero": false}, "axis": null},
     "x2": {"datum": 100},
     "y": {"datum": 0.59, "scale": {"domain": [0, 3], "range": [-21, 157], "nice": false, "zero": false}, "axis": null}
    }},
   {"data": {"values": [{"k": "bottom"}]},
    "mark": {"type": "rule", "color": "#111", "strokeWidth": 3},
    "encoding": {
     "x": {"datum": 0, "scale": {"domain": [0, 100], "range": [-149, 626], "nice": false, "zero": false}, "axis": null},
     "x2": {"datum": 100},
     "y": {"datum": 3.657, "scale": {"domain": [0, 3], "range": [-21, 157], "nice": false, "zero": false}, "axis": null}
    }},
   {"mark": {"type": "text", "align": "left", "baseline": "alphabetic", "fontSize": 25},
    "encoding": {
     "x": {"datum": 1.55, "scale": {"domain": [0, 100], "range": [-149, 626], "nice": false, "zero": false}, "axis": null},
     "y": {"field": "r", "type": "quantitative", "scale": {"domain": [0, 3], "range": [-21, 157], "nice": false, "zero": false}, "axis": null},
     "text": {"field": "label"}
    }},
   {"mark": {"type": "text", "align": "center", "baseline": "alphabetic", "fontSize": 25},
    "encoding": {
     "x": {"datum": 44.65, "scale": {"domain": [0, 100], "range": [-149, 626], "nice": false, "zero": false}, "axis": null},
     "y": {"field": "r", "type": "quantitative", "scale": {"domain": [0, 3], "range": [-21, 157], "nice": false, "zero": false}, "axis": null},
     "text": {"field": "adult"}
    }},
   {"mark": {"type": "text", "align": "center", "baseline": "alphabetic", "fontSize": 25},
    "encoding": {
     "x": {"datum": 70.84, "scale": {"domain": [0, 100], "range": [-149, 626], "nice": false, "zero": false}, "axis": null},
     "y": {"field": "r", "type": "quantitative", "scale": {"domain": [0, 3], "range": [-21, 157], "nice": false, "zero": false}, "axis": null},
     "text": {"field": "sen"}
    }},
   {"mark": {"type": "text", "align": "center", "baseline": "alphabetic", "fontSize": 25},
    "encoding": {
     "x": {"datum": 92.0, "scale": {"domain": [0, 100], "range": [-149, 626], "nice": false, "zero": false}, "axis": null},
     "y": {"field": "r", "type": "quantitative", "scale": {"domain": [0, 3], "range": [-21, 157], "nice": false, "zero": false}, "axis": null},
     "text": {"field": "p"}
    }},
   {"data": {"values": [{"k": "C"}]},
    "mark": {"type": "text", "align": "left", "baseline": "alphabetic", "fontSize": 29},
    "encoding": {
     "x": {"datum": 5.03, "scale": {"domain": [0, 100], "range": [-149, 626], "nice": false, "zero": false}, "axis": null},
     "y": {"datum": -0.86, "scale": {"domain": [0, 3], "range": [-21, 157], "nice": false, "zero": false}, "axis": null},
     "text": {"field": "k"}
    }}
  ]
 }
]
}
